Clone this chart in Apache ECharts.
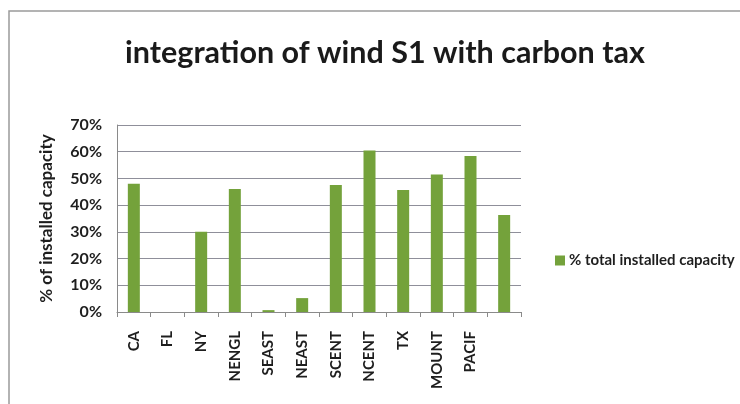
<!DOCTYPE html>
<html>
<head>
<meta charset="utf-8">
<script src="https://cdn.jsdelivr.net/npm/echarts@6/dist/echarts.min.js"></script>
<style>
  html, body { margin: 0; padding: 0; background: #fff; }
  #main { width: 740px; height: 404px; }
</style>
</head>
<body>
<div id="main"></div>
<script>
// regions along the x axis (the last one has no label in the original)
var regions = ['CA', 'FL', 'NY', 'NENGL', 'SEAST', 'NEAST', 'SCENT', 'NCENT', 'TX', 'MOUNT', 'PACIF', ''];
// share of installed capacity, in %
var capacityShare = [48, 0, 30, 46, 0.7, 5.2, 47.5, 60.5, 45.7, 51.5, 58.4, 36.3];
var yTicks = [0, 10, 20, 30, 40, 50, 60, 70];

var myChart = echarts.init(document.getElementById('main'));
var fontFam = 'Lato, "Open Sans", sans-serif';

var option = {
  backgroundColor: '#fff',
  animation: false,
  graphic: [{
    type: 'polyline',
    shape: { points: [[9, 404], [9, 11], [740, 11]] },
    style: { stroke: '#9a9a9a', lineWidth: 1.5, fill: null }
  }],
  title: {
    text: 'integration of wind S1 with carbon tax',
    left: 380,
    textAlign: 'center',
    top: 33,
    textStyle: { fontFamily: fontFam, fontSize: 30.5, fontWeight: 'bold', color: '#1a1a1a' }
  },
  legend: {
    left: 550,
    top: 248,
    itemWidth: 10,
    itemHeight: 10,
    itemGap: 4,
    icon: 'rect',
    textStyle: { fontFamily: fontFam, fontSize: 15, fontWeight: 'bold', color: '#1e1e1e', padding: [0, 0, 0, -1] },
    data: ['% total installed capacity']
  },
  grid: { left: 117, right: 219, top: 125, bottom: 92 },
  xAxis: {
    type: 'category',
    data: regions,
    boundaryGap: true,
    axisLine: { lineStyle: { color: '#8a8a8a', width: 1 } },
    axisTick: { show: true, length: 5, alignWithLabel: false, lineStyle: { color: '#8a8a8a' } },
    axisLabel: {
      rotate: 90,
      interval: 0,
      margin: 19,
      fontFamily: fontFam,
      fontSize: 15,
      fontWeight: 'bold',
      color: '#1e1e1e'
    }
  },
  yAxis: {
    type: 'value',
    min: 0,
    max: 70,
    interval: 10,
    name: '% of installed capacity',
    nameLocation: 'middle',
    nameGap: 62,
    nameRotate: 90,
    nameTextStyle: { fontFamily: fontFam, fontSize: 17, fontWeight: 'bold', color: '#1e1e1e' },
    axisLine: { show: true, lineStyle: { color: '#8a8a8a' } },
    axisTick: { show: false },
    axisLabel: {
      margin: 15,
      fontFamily: fontFam,
      fontSize: 16,
      fontWeight: 'bold',
      color: '#1e1e1e',
      formatter: function (v) { return yTicks.indexOf(v) >= 0 ? v + '%' : ''; }
    },
    splitLine: { lineStyle: { color: '#8f8f9a', width: 1 } }
  },
  series: [{
    name: '% total installed capacity',
    type: 'bar',
    data: capacityShare,
    barWidth: 12,
    itemStyle: { color: '#74a23b' }
  }]
};

myChart.setOption(option);
</script>
</body>
</html>
